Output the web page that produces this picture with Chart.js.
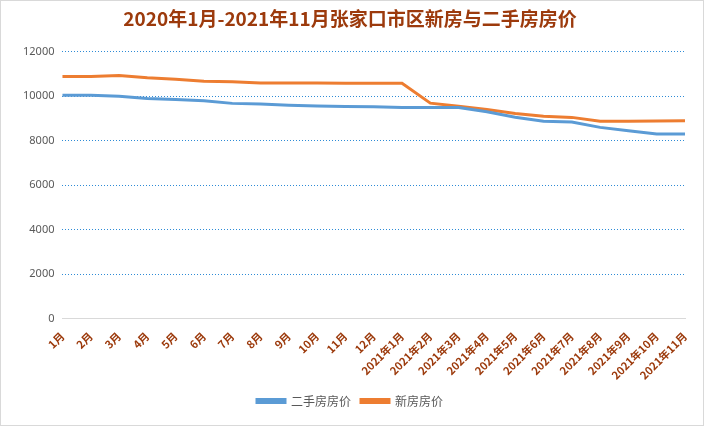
<!DOCTYPE html><html><head><meta charset="utf-8"><script src="https://cdn.jsdelivr.net/npm/chart.js@4"></script>
<style>body{margin:0;background:#fff}#w{width:702px;height:424px;border:1px solid #d9d9d9}</style></head><body><div id="w"><canvas id="c"></canvas></div>
<script>
const categories=['1月','2月','3月','4月','5月','6月','7月','8月','9月','10月','11月','12月','2021年1月','2021年2月','2021年3月','2021年4月','2021年5月','2021年6月','2021年7月','2021年8月','2021年9月','2021年10月','2021年11月'];
const secondHand=[10050,10050,10000,9900,9850,9800,9680,9650,9600,9560,9540,9530,9500,9500,9490,9300,9060,8880,8840,8600,8450,8300,8300];
const newHouse=[10890,10890,10930,10830,10760,10680,10650,10600,10600,10600,10590,10580,10580,9690,9550,9400,9220,9100,9050,8880,8880,8890,8900];
const yTicks=[0,2000,4000,6000,8000,10000,12000];
new Chart(document.getElementById('c'),{type:'line',data:{labels:categories,datasets:[
{label:'二手房房价',data:secondHand,borderColor:'#5b9bd5',backgroundColor:'#5b9bd5',borderWidth:3,pointRadius:0,tension:0},
{label:'新房房价',data:newHouse,borderColor:'#ed7d31',backgroundColor:'#ed7d31',borderWidth:3,pointRadius:0,tension:0}]},
options:{responsive:true,maintainAspectRatio:false,animation:false,layout:{padding:{left:14,right:18,top:6,bottom:8}},
plugins:{title:{display:true,text:'2020年1月-2021年11月张家口市区新房与二手房房价',color:'#9c3a0c',font:{family:'Noto Sans CJK SC',size:19,weight:'bold'},padding:{bottom:22}},
legend:{position:'bottom',labels:{boxWidth:28,boxHeight:3,color:'#595959',font:{family:'Noto Sans CJK SC',size:12}}}},
scales:{x:{offset:false,grid:{display:false},border:{color:'#d9d9d9'},ticks:{maxRotation:45,minRotation:45,color:'#9c3a0c',font:{family:'Noto Sans CJK SC',size:11,weight:'bold'}}},
y:{min:0,max:12000,afterBuildTicks:a=>{a.ticks=yTicks.map(v=>({value:v}))},border:{display:false,dash:[1,2]},grid:{color:'#2e8bd6',drawTicks:false},ticks:{padding:8,color:'#595959',callback:v=>String(v),font:{family:'Noto Sans',size:11}}}}}});
</script></body></html>
